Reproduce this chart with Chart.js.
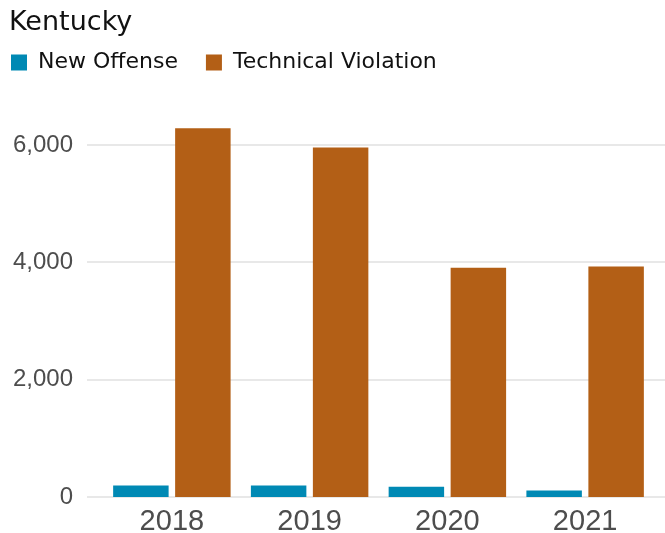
<!DOCTYPE html>
<html>
<head>
<meta charset="utf-8">
<script src="https://cdn.jsdelivr.net/npm/chart.js@4"></script>
<style>
  html, body { margin: 0; padding: 0; background: #fff; }
  #wrap { width: 665px; height: 533px; }
</style>
</head>
<body>
<div id="wrap"><canvas id="chart"></canvas></div>
<script>
const years = ["2018", "2019", "2020", "2021"];
const seriesNames = ["New Offense", "Technical Violation"];
const newOffense = [195, 195, 175, 110];
const technicalViolation = [6285, 5960, 3910, 3930];
const yTicks = [0, 2000, 4000, 6000];
const seriesColors = ["#0089b4", "#b35f16"];

// gridlines across the full width (past the plot area on both sides)
const fullGrid = {
  id: "fullGrid",
  beforeDatasetsDraw(chart) {
    const { ctx, chartArea } = chart;
    const y = chart.scales.y;
    ctx.save();
    ctx.strokeStyle = "#e8e8e8";
    ctx.lineWidth = 2;
    y.ticks.forEach((t) => {
      const py = Math.round(y.getPixelForValue(t.value));
      ctx.beginPath();
      ctx.moveTo(chartArea.left - 16, py);
      ctx.lineTo(chart.width, py);
      ctx.stroke();
    });
    ctx.restore();
  },
};

// legend: wide gap between items, but first box near the top left
const legendShift = {
  id: "legendShift",
  afterLayout(chart) {
    chart.legend.left -= 26;
    chart.legend.top -= 16;
  },
};

new Chart(document.getElementById("chart"), {
  type: "bar",
  data: {
    labels: years,
    datasets: [
      { label: seriesNames[0], data: newOffense, backgroundColor: seriesColors[0] },
      { label: seriesNames[1], data: technicalViolation, backgroundColor: seriesColors[1] },
    ],
  },
  options: {
    responsive: true,
    maintainAspectRatio: false,
    animation: false,
    datasets: { bar: { categoryPercentage: 0.9, barPercentage: 0.895 } },
    layout: { padding: { left: 9, right: 11, top: 0, bottom: 0 } },
    plugins: {
      title: {
        display: true,
        text: "Kentucky",
        align: "start",
        color: "#111",
        font: { family: "DejaVu Sans", size: 27, weight: "normal" },
        padding: { top: 7, bottom: 0 },
      },
      legend: {
        align: "start",
        maxHeight: 47,
        labels: {
          boxWidth: 16,
          boxHeight: 16,
          padding: 28,
          color: "#111",
          font: { family: "DejaVu Sans", size: 22 },
        },
      },
      tooltip: { enabled: false },
    },
    scales: {
      x: {
        grid: { display: false, drawTicks: false },
        border: { display: false },
        afterFit: (s) => { s.height = 36; },
        ticks: {
          color: "#4d4d4d",
          padding: 8,
          font: { family: "Liberation Sans", size: 29 },
        },
      },
      y: {
        min: 0,
        max: 7000,
        afterBuildTicks: (s) => { s.ticks = yTicks.map((v) => ({ value: v })); },
        afterFit: (s) => {
          s.width = 94;
          s.paddingTop = 0;
          s.paddingBottom = 0;
        },
        grid: { display: false, drawTicks: false },
        border: { display: false },
        ticks: {
          color: "#4d4d4d",
          padding: 30,
          font: { family: "Liberation Sans", size: 24 },
          callback: (v) => v.toLocaleString("en-US"),
        },
      },
    },
  },
  plugins: [fullGrid, legendShift],
});
</script>
</body>
</html>
